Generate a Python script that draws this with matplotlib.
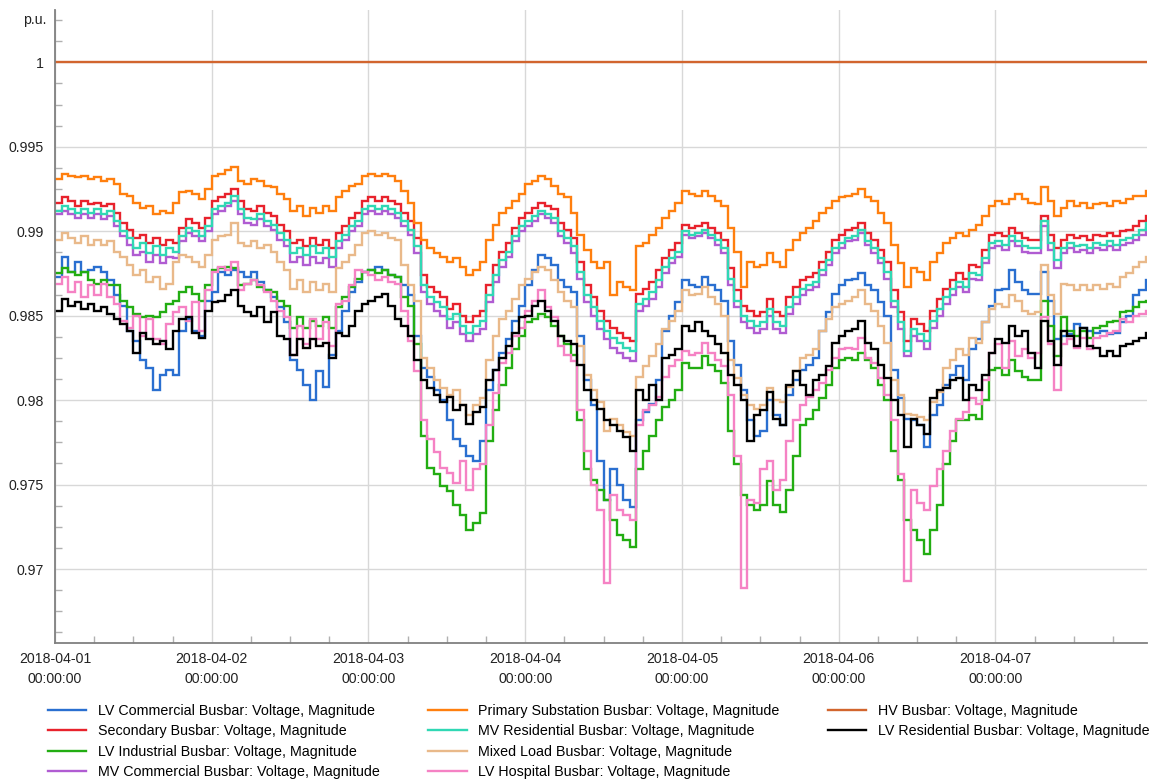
import numpy as np
import pandas as pd
import matplotlib
matplotlib.use("Agg")
import matplotlib.pyplot as plt
import matplotlib.dates as mdates
from matplotlib.lines import Line2D
from matplotlib.ticker import MultipleLocator, FixedLocator, FixedFormatter

plt.rcParams['font.family'] = ['Liberation Sans', 'DejaVu Sans']

start = "2018-04-01 00:00:00"
n_hours = 168

lv_commercial = [
0.9873,0.9885,0.9876,0.9882,0.9876,0.9877,0.9879,0.9876,0.9871,0.9862,0.9856,0.9841,0.9835,0.9824,0.9819,0.9806,0.9815,0.9818,0.9815,0.9841,0.9848,0.9841,0.9838,0.9859,
0.9864,0.9876,0.9874,0.9877,0.9876,0.9873,0.9876,0.9870,0.9865,0.9861,0.9855,0.9846,0.9824,0.9818,0.9809,0.9800,0.9817,0.9808,0.9827,0.9841,0.9853,0.9864,0.9870,0.9876,
0.9877,0.9879,0.9877,0.9874,0.9873,0.9868,0.9862,0.9838,0.9819,0.9814,0.9806,0.9800,0.9788,0.9777,0.9773,0.9767,0.9764,0.9776,0.9806,0.9818,0.9828,0.9836,0.9847,0.9856,
0.9868,0.9877,0.9886,0.9884,0.9880,0.9871,0.9867,0.9864,0.9838,0.9812,0.9797,0.9764,0.9741,0.9759,0.9750,0.9741,0.9737,0.9788,0.9793,0.9798,0.9812,0.9841,0.9850,0.9858,
0.9871,0.9868,0.9867,0.9873,0.9868,0.9865,0.9859,0.9835,0.9821,0.9806,0.9788,0.9779,0.9782,0.9800,0.9791,0.9785,0.9803,0.9812,0.9818,0.9821,0.9825,0.9841,0.9852,0.9863,
0.9868,0.9871,0.9872,0.9875,0.9868,0.9865,0.9858,0.9850,0.9818,0.9801,0.9789,0.9788,0.9785,0.9772,0.9791,0.9797,0.9809,0.9815,0.9820,0.9812,0.9830,0.9836,0.9846,0.9856,
0.9865,0.9866,0.9877,0.9870,0.9865,0.9863,0.9863,0.9876,0.9859,0.9836,0.9838,0.9839,0.9845,0.9843,0.9841,0.9840,0.9841,0.9839,0.9840,0.9846,0.9850,0.9862,0.9865,0.9871]

secondary = [
0.9917,0.9920,0.9918,0.9915,0.9918,0.9916,0.9917,0.9915,0.9916,0.9911,0.9905,0.9901,0.9896,0.9898,0.9893,0.9896,0.9892,0.9895,0.9893,0.9902,0.9907,0.9905,0.9902,0.9908,
0.9918,0.9920,0.9922,0.9925,0.9918,0.9913,0.9912,0.9915,0.9911,0.9909,0.9904,0.9900,0.9893,0.9895,0.9891,0.9896,0.9892,0.9895,0.9890,0.9899,0.9903,0.9908,0.9911,0.9918,
0.9920,0.9918,0.9920,0.9918,0.9916,0.9911,0.9906,0.9896,0.9874,0.9867,0.9864,0.9861,0.9854,0.9857,0.9850,0.9846,0.9850,0.9853,0.9868,0.9880,0.9888,0.9893,0.9902,0.9908,
0.9911,0.9914,0.9917,0.9915,0.9913,0.9905,0.9901,0.9896,0.9882,0.9868,0.9861,0.9853,0.9847,0.9843,0.9840,0.9837,0.9835,0.9863,0.9866,0.9870,0.9877,0.9884,0.9889,0.9893,
0.9904,0.9902,0.9903,0.9905,0.9902,0.9899,0.9895,0.9878,0.9865,0.9856,0.9853,0.9850,0.9852,0.9860,0.9852,0.9850,0.9861,0.9867,0.9871,0.9873,0.9875,0.9882,0.9888,0.9895,
0.9898,0.9901,0.9902,0.9905,0.9899,0.9895,0.9889,0.9882,0.9865,0.9852,0.9835,0.9848,0.9845,0.9841,0.9853,0.9860,0.9866,0.9871,0.9875,0.9872,0.9880,0.9879,0.9889,0.9898,
0.9899,0.9897,0.9902,0.9899,0.9896,0.9895,0.9895,0.9909,0.9898,0.9890,0.9895,0.9898,0.9896,0.9897,0.9895,0.9898,0.9897,0.9899,0.9897,0.9900,0.9901,0.9903,0.9906,0.9909]

lv_industrial = [
0.9875,0.9878,0.9876,0.9874,0.9876,0.9871,0.9869,0.9871,0.9868,0.9868,0.9859,0.9855,0.9851,0.9849,0.9850,0.9849,0.9852,0.9857,0.9859,0.9864,0.9867,0.9863,0.9859,0.9868,
0.9877,0.9878,0.9879,0.9878,0.9868,0.9869,0.9871,0.9867,0.9865,0.9864,0.9859,0.9856,0.9843,0.9849,0.9843,0.9847,0.9844,0.9849,0.9843,0.9855,0.9861,0.9867,0.9872,0.9876,
0.9877,0.9875,0.9877,0.9874,0.9873,0.9861,0.9856,0.9833,0.9779,0.9760,0.9756,0.9749,0.9746,0.9738,0.9732,0.9723,0.9727,0.9733,0.9776,0.9794,0.9809,0.9819,0.9830,0.9838,
0.9846,0.9848,0.9851,0.9849,0.9844,0.9838,0.9833,0.9827,0.9788,0.9759,0.9753,0.9747,0.9741,0.9729,0.9720,0.9717,0.9713,0.9759,0.9770,0.9779,0.9788,0.9796,0.9800,0.9806,
0.9822,0.9819,0.9819,0.9826,0.9821,0.9817,0.9810,0.9782,0.9762,0.9744,0.9738,0.9735,0.9738,0.9752,0.9738,0.9734,0.9747,0.9767,0.9785,0.9789,0.9794,0.9801,0.9809,0.9819,
0.9824,0.9825,0.9824,0.9828,0.9824,0.9819,0.9809,0.9800,0.9770,0.9753,0.9729,0.9723,0.9717,0.9709,0.9723,0.9738,0.9762,0.9776,0.9788,0.9788,0.9791,0.9789,0.9800,0.9818,
0.9819,0.9815,0.9824,0.9817,0.9814,0.9812,0.9812,0.9859,0.9844,0.9826,0.9849,0.9841,0.9838,0.9841,0.9837,0.9843,0.9844,0.9846,0.9847,0.9852,0.9853,0.9855,0.9858,0.9859]

mv_commercial = [
0.9910,0.9912,0.9910,0.9908,0.9910,0.9908,0.9910,0.9907,0.9909,0.9903,0.9897,0.9892,0.9886,0.9888,0.9882,0.9886,0.9881,0.9885,0.9884,0.9894,0.9899,0.9897,0.9894,0.9900,
0.9910,0.9912,0.9915,0.9918,0.9910,0.9905,0.9904,0.9907,0.9903,0.9901,0.9895,0.9891,0.9882,0.9885,0.9880,0.9885,0.9881,0.9884,0.9879,0.9890,0.9895,0.9900,0.9903,0.9910,
0.9912,0.9910,0.9912,0.9910,0.9908,0.9903,0.9898,0.9887,0.9864,0.9857,0.9853,0.9850,0.9843,0.9846,0.9839,0.9835,0.9839,0.9842,0.9858,0.9870,0.9879,0.9885,0.9894,0.9900,
0.9903,0.9906,0.9910,0.9908,0.9905,0.9897,0.9893,0.9887,0.9872,0.9858,0.9850,0.9842,0.9836,0.9831,0.9828,0.9825,0.9823,0.9853,0.9856,0.9860,0.9867,0.9875,0.9881,0.9885,
0.9898,0.9896,0.9897,0.9899,0.9896,0.9892,0.9887,0.9868,0.9855,0.9846,0.9843,0.9840,0.9842,0.9850,0.9842,0.9840,0.9851,0.9857,0.9862,0.9865,0.9867,0.9874,0.9880,0.9887,
0.9890,0.9894,0.9895,0.9899,0.9892,0.9887,0.9881,0.9872,0.9855,0.9842,0.9826,0.9838,0.9835,0.9830,0.9843,0.9850,0.9857,0.9862,0.9867,0.9864,0.9872,0.9871,0.9881,0.9890,
0.9891,0.9889,0.9894,0.9891,0.9888,0.9887,0.9887,0.9903,0.9889,0.9878,0.9887,0.9890,0.9888,0.9889,0.9887,0.9890,0.9889,0.9891,0.9889,0.9892,0.9893,0.9895,0.9898,0.9902]

primary_substation = [
0.9931,0.9934,0.9933,0.9932,0.9933,0.9931,0.9932,0.9930,0.9931,0.9928,0.9922,0.9921,0.9917,0.9914,0.9915,0.9910,0.9912,0.9911,0.9917,0.9923,0.9924,0.9922,0.9919,0.9925,
0.9933,0.9934,0.9936,0.9938,0.9930,0.9928,0.9931,0.9930,0.9927,0.9926,0.9922,0.9919,0.9912,0.9915,0.9909,0.9914,0.9911,0.9915,0.9912,0.9920,0.9924,0.9927,0.9928,0.9933,
0.9934,0.9933,0.9934,0.9933,0.9930,0.9924,0.9917,0.9905,0.9895,0.9890,0.9887,0.9885,0.9882,0.9884,0.9879,0.9874,0.9877,0.9882,0.9895,0.9904,0.9911,0.9914,0.9918,0.9922,
0.9928,0.9930,0.9933,0.9931,0.9927,0.9922,0.9920,0.9911,0.9898,0.9889,0.9882,0.9878,0.9882,0.9862,0.9870,0.9867,0.9865,0.9891,0.9893,0.9898,0.9902,0.9908,0.9912,0.9917,
0.9924,0.9922,0.9921,0.9924,0.9921,0.9918,0.9915,0.9902,0.9888,0.9867,0.9882,0.9879,0.9880,0.9887,0.9882,0.9879,0.9889,0.9895,0.9899,0.9902,0.9906,0.9911,0.9914,0.9918,
0.9920,0.9921,0.9922,0.9925,0.9920,0.9918,0.9911,0.9905,0.9892,0.9881,0.9867,0.9878,0.9876,0.9871,0.9882,0.9887,0.9893,0.9896,0.9899,0.9897,0.9901,0.9904,0.9909,0.9915,
0.9918,0.9916,0.9919,0.9922,0.9919,0.9917,0.9916,0.9926,0.9918,0.9909,0.9914,0.9918,0.9915,0.9917,0.9914,0.9916,0.9917,0.9915,0.9918,0.9917,0.9919,0.9921,0.9921,0.9924]

mv_residential = [
0.9912,0.9915,0.9913,0.9911,0.9913,0.9911,0.9913,0.9910,0.9912,0.9906,0.9900,0.9896,0.9890,0.9893,0.9887,0.9891,0.9886,0.9890,0.9888,0.9897,0.9902,0.9900,0.9897,0.9903,
0.9913,0.9915,0.9917,0.9921,0.9913,0.9908,0.9907,0.9910,0.9906,0.9904,0.9899,0.9895,0.9887,0.9890,0.9886,0.9891,0.9887,0.9890,0.9885,0.9894,0.9898,0.9903,0.9906,0.9913,
0.9915,0.9913,0.9915,0.9913,0.9911,0.9906,0.9901,0.9891,0.9868,0.9861,0.9858,0.9855,0.9848,0.9851,0.9844,0.9840,0.9844,0.9847,0.9862,0.9874,0.9883,0.9888,0.9897,0.9903,
0.9906,0.9909,0.9912,0.9910,0.9908,0.9900,0.9896,0.9891,0.9876,0.9862,0.9855,0.9847,0.9841,0.9837,0.9834,0.9831,0.9829,0.9857,0.9860,0.9864,0.9871,0.9879,0.9884,0.9888,
0.9900,0.9898,0.9899,0.9901,0.9898,0.9895,0.9890,0.9872,0.9859,0.9850,0.9847,0.9844,0.9846,0.9854,0.9846,0.9844,0.9855,0.9861,0.9866,0.9868,0.9870,0.9877,0.9883,0.9890,
0.9893,0.9896,0.9897,0.9901,0.9894,0.9890,0.9884,0.9876,0.9859,0.9846,0.9829,0.9842,0.9839,0.9835,0.9847,0.9854,0.9861,0.9866,0.9870,0.9867,0.9875,0.9874,0.9884,0.9893,
0.9894,0.9892,0.9897,0.9894,0.9891,0.9890,0.9890,0.9906,0.9893,0.9883,0.9890,0.9893,0.9891,0.9892,0.9890,0.9893,0.9892,0.9894,0.9892,0.9895,0.9896,0.9898,0.9901,0.9905]

mixed_load = [
0.9895,0.9899,0.9896,0.9893,0.9897,0.9892,0.9895,0.9892,0.9894,0.9888,0.9885,0.9880,0.9874,0.9877,0.9870,0.9873,0.9866,0.9869,0.9882,0.9886,0.9885,0.9882,0.9879,0.9886,
0.9895,0.9897,0.9898,0.9905,0.9893,0.9891,0.9894,0.9890,0.9892,0.9888,0.9882,0.9877,0.9866,0.9871,0.9864,0.9870,0.9865,0.9869,0.9864,0.9878,0.9882,0.9886,0.9892,0.9899,
0.9900,0.9898,0.9899,0.9896,0.9895,0.9880,0.9868,0.9859,0.9825,0.9819,0.9812,0.9807,0.9803,0.9806,0.9797,0.9791,0.9797,0.9801,0.9824,0.9838,0.9848,0.9853,0.9860,0.9868,
0.9872,0.9876,0.9879,0.9877,0.9871,0.9864,0.9859,0.9855,0.9832,0.9815,0.9806,0.9799,0.9782,0.9789,0.9785,0.9781,0.9779,0.9814,0.9820,0.9826,0.9833,0.9842,0.9847,0.9853,
0.9865,0.9862,0.9863,0.9867,0.9861,0.9857,0.9850,0.9824,0.9813,0.9803,0.9797,0.9795,0.9797,0.9807,0.9800,0.9799,0.9808,0.9817,0.9825,0.9827,0.9830,0.9841,0.9848,0.9855,
0.9857,0.9859,0.9861,0.9865,0.9857,0.9853,0.9844,0.9834,0.9812,0.9803,0.9792,0.9791,0.9790,0.9788,0.9799,0.9805,0.9819,0.9824,0.9830,0.9827,0.9837,0.9834,0.9846,0.9854,
0.9857,0.9855,0.9862,0.9859,0.9853,0.9851,0.9852,0.9880,0.9862,0.9851,0.9869,0.9868,0.9865,0.9868,0.9865,0.9868,0.9866,0.9869,0.9867,0.9873,0.9875,0.9879,0.9882,0.9885]

lv_hospital = [
0.9869,0.9873,0.9864,0.9870,0.9861,0.9868,0.9862,0.9869,0.9861,0.9857,0.9847,0.9843,0.9850,0.9838,0.9848,0.9836,0.9833,0.9845,0.9852,0.9855,0.9847,0.9858,0.9841,0.9865,
0.9876,0.9879,0.9877,0.9882,0.9865,0.9869,0.9871,0.9868,0.9864,0.9859,0.9853,0.9849,0.9827,0.9844,0.9833,0.9848,0.9836,0.9846,0.9832,0.9857,0.9859,0.9868,0.9877,0.9876,
0.9874,0.9871,0.9873,0.9870,0.9869,0.9853,0.9835,0.9817,0.9788,0.9777,0.9769,0.9760,0.9757,0.9751,0.9764,0.9747,0.9759,0.9762,0.9785,0.9804,0.9822,0.9828,0.9838,0.9843,
0.9853,0.9859,0.9865,0.9855,0.9849,0.9832,0.9827,0.9823,0.9794,0.9770,0.9750,0.9735,0.9692,0.9744,0.9735,0.9732,0.9729,0.9785,0.9794,0.9797,0.9802,0.9814,0.9820,0.9824,
0.9829,0.9827,0.9828,0.9834,0.9828,0.9824,0.9820,0.9803,0.9767,0.9689,0.9741,0.9739,0.9759,0.9764,0.9747,0.9753,0.9776,0.9788,0.9797,0.9802,0.9806,0.9810,0.9818,0.9825,
0.9830,0.9831,0.9830,0.9837,0.9825,0.9822,0.9813,0.9803,0.9788,0.9756,0.9693,0.9747,0.9739,0.9735,0.9749,0.9759,0.9770,0.9782,0.9789,0.9793,0.9801,0.9798,0.9812,0.9828,
0.9833,0.9819,0.9835,0.9826,0.9830,0.9825,0.9828,0.9849,0.9833,0.9806,0.9833,0.9836,0.9831,0.9837,0.9830,0.9837,0.9838,0.9840,0.9841,0.9848,0.9846,0.9850,0.9851,0.9853]

hv_busbar = [1.0] * n_hours

lv_residential = [
0.9853,0.9860,0.9856,0.9858,0.9854,0.9857,0.9853,0.9855,0.9851,0.9848,0.9845,0.9841,0.9828,0.9840,0.9836,0.9833,0.9835,0.9830,0.9841,0.9848,0.9849,0.9840,0.9837,0.9853,
0.9858,0.9859,0.9862,0.9865,0.9856,0.9852,0.9850,0.9855,0.9846,0.9852,0.9838,0.9836,0.9827,0.9836,0.9831,0.9836,0.9832,0.9834,0.9825,0.9840,0.9838,0.9844,0.9853,0.9857,
0.9859,0.9861,0.9863,0.9856,0.9848,0.9844,0.9838,0.9824,0.9812,0.9807,0.9803,0.9799,0.9802,0.9794,0.9797,0.9786,0.9793,0.9796,0.9812,0.9818,0.9825,0.9832,0.9840,0.9849,
0.9850,0.9856,0.9859,0.9853,0.9847,0.9838,0.9835,0.9833,0.9821,0.9806,0.9800,0.9795,0.9788,0.9785,0.9782,0.9778,0.9770,0.9806,0.9800,0.9809,0.9800,0.9825,0.9827,0.9830,
0.9844,0.9841,0.9846,0.9841,0.9838,0.9833,0.9828,0.9815,0.9809,0.9800,0.9776,0.9791,0.9794,0.9805,0.9789,0.9785,0.9809,0.9817,0.9809,0.9803,0.9812,0.9815,0.9820,0.9834,
0.9838,0.9841,0.9842,0.9847,0.9834,0.9830,0.9821,0.9813,0.9800,0.9791,0.9772,0.9789,0.9785,0.9780,0.9801,0.9806,0.9807,0.9812,0.9813,0.9800,0.9809,0.9806,0.9815,0.9828,
0.9836,0.9834,0.9844,0.9838,0.9841,0.9828,0.9819,0.9847,0.9835,0.9821,0.9841,0.9838,0.9832,0.9843,0.9832,0.9831,0.9826,0.9829,0.9826,0.9832,0.9833,0.9835,0.9837,0.9840]

series = [
    ("LV Commercial Busbar: Voltage, Magnitude", lv_commercial, "#2a6fd0"),
    ("Secondary Busbar: Voltage, Magnitude", secondary, "#e8222c"),
    ("LV Industrial Busbar: Voltage, Magnitude", lv_industrial, "#22ad12"),
    ("MV Commercial Busbar: Voltage, Magnitude", mv_commercial, "#b05cd2"),
    ("Primary Substation Busbar: Voltage, Magnitude", primary_substation, "#ff7f0e"),
    ("MV Residential Busbar: Voltage, Magnitude", mv_residential, "#30d8b4"),
    ("Mixed Load Busbar: Voltage, Magnitude", mixed_load, "#e9b98a"),
    ("LV Hospital Busbar: Voltage, Magnitude", lv_hospital, "#f582c4"),
    ("HV Busbar: Voltage, Magnitude", hv_busbar, "#d2652e"),
    ("LV Residential Busbar: Voltage, Magnitude", lv_residential, "#000000"),
]

times = pd.date_range(start, periods=n_hours, freq="h")

fig = plt.figure(figsize=(11.58, 7.83), dpi=100)
ax = fig.add_axes([0.0475, 0.1788, 0.9430, 0.8084])

handles = []
for label, vals, col in series:
    ln, = ax.step(times, vals, where="post", color=col, lw=1.7, label=label,
                  solid_joinstyle="miter")
    handles.append(ln)

t0 = pd.Timestamp(start)
ax.set_xlim(t0, t0 + pd.Timedelta(hours=167.2))
ax.set_ylim(0.96562, 1.0031)

major_y = [0.97, 0.975, 0.98, 0.985, 0.99, 0.995, 1.0]
major_y_labels = ["0.97", "0.975", "0.98", "0.985", "0.99", "0.995", "1"]
ax.yaxis.set_major_locator(FixedLocator(major_y))
ax.yaxis.set_major_formatter(FixedFormatter(major_y_labels))
ax.yaxis.set_minor_locator(MultipleLocator(0.00125))

ax.xaxis.set_major_locator(mdates.DayLocator())
ax.xaxis.set_major_formatter(mdates.DateFormatter("%Y-%m-%d\n%H:%M:%S"))
ax.xaxis.set_minor_locator(mdates.HourLocator(byhour=[6, 12, 18]))

ax.grid(True, which="major", color="#d8d8d8", lw=1.0)
ax.set_axisbelow(True)
for s in ["top", "right"]:
    ax.spines[s].set_visible(False)
for s in ["left", "bottom"]:
    ax.spines[s].set_color("#808080")
    ax.spines[s].set_linewidth(1.3)

ax.tick_params(axis="both", which="both", direction="in", color="#b0b0b0",
               labelcolor="#222222", labelsize=10.2)
ax.tick_params(axis="both", which="major", length=0)
ax.tick_params(axis="both", which="minor", length=5, width=1)
ax.tick_params(axis="x", which="major", pad=6.5)
ax.tick_params(axis="y", which="major", pad=8)
for lbl in ax.get_xticklabels():
    lbl.set_linespacing(1.5)

ax.text(-0.008, 1.0025, "p.u.", transform=ax.get_yaxis_transform(),
        ha="right", va="center", fontsize=10.2, color="#222222")

blank = Line2D([], [], color="none")
fig.legend(handles + [blank], [s[0] for s in series] + [""],
           loc="upper left", bbox_to_anchor=(0.0415, 0.101), ncol=3,
           frameon=False, fontsize=10.25, handlelength=2.7, handletextpad=0.8,
           columnspacing=3.4, labelspacing=0.45, borderpad=0, borderaxespad=0)

fig.savefig("out.png", dpi=100)
